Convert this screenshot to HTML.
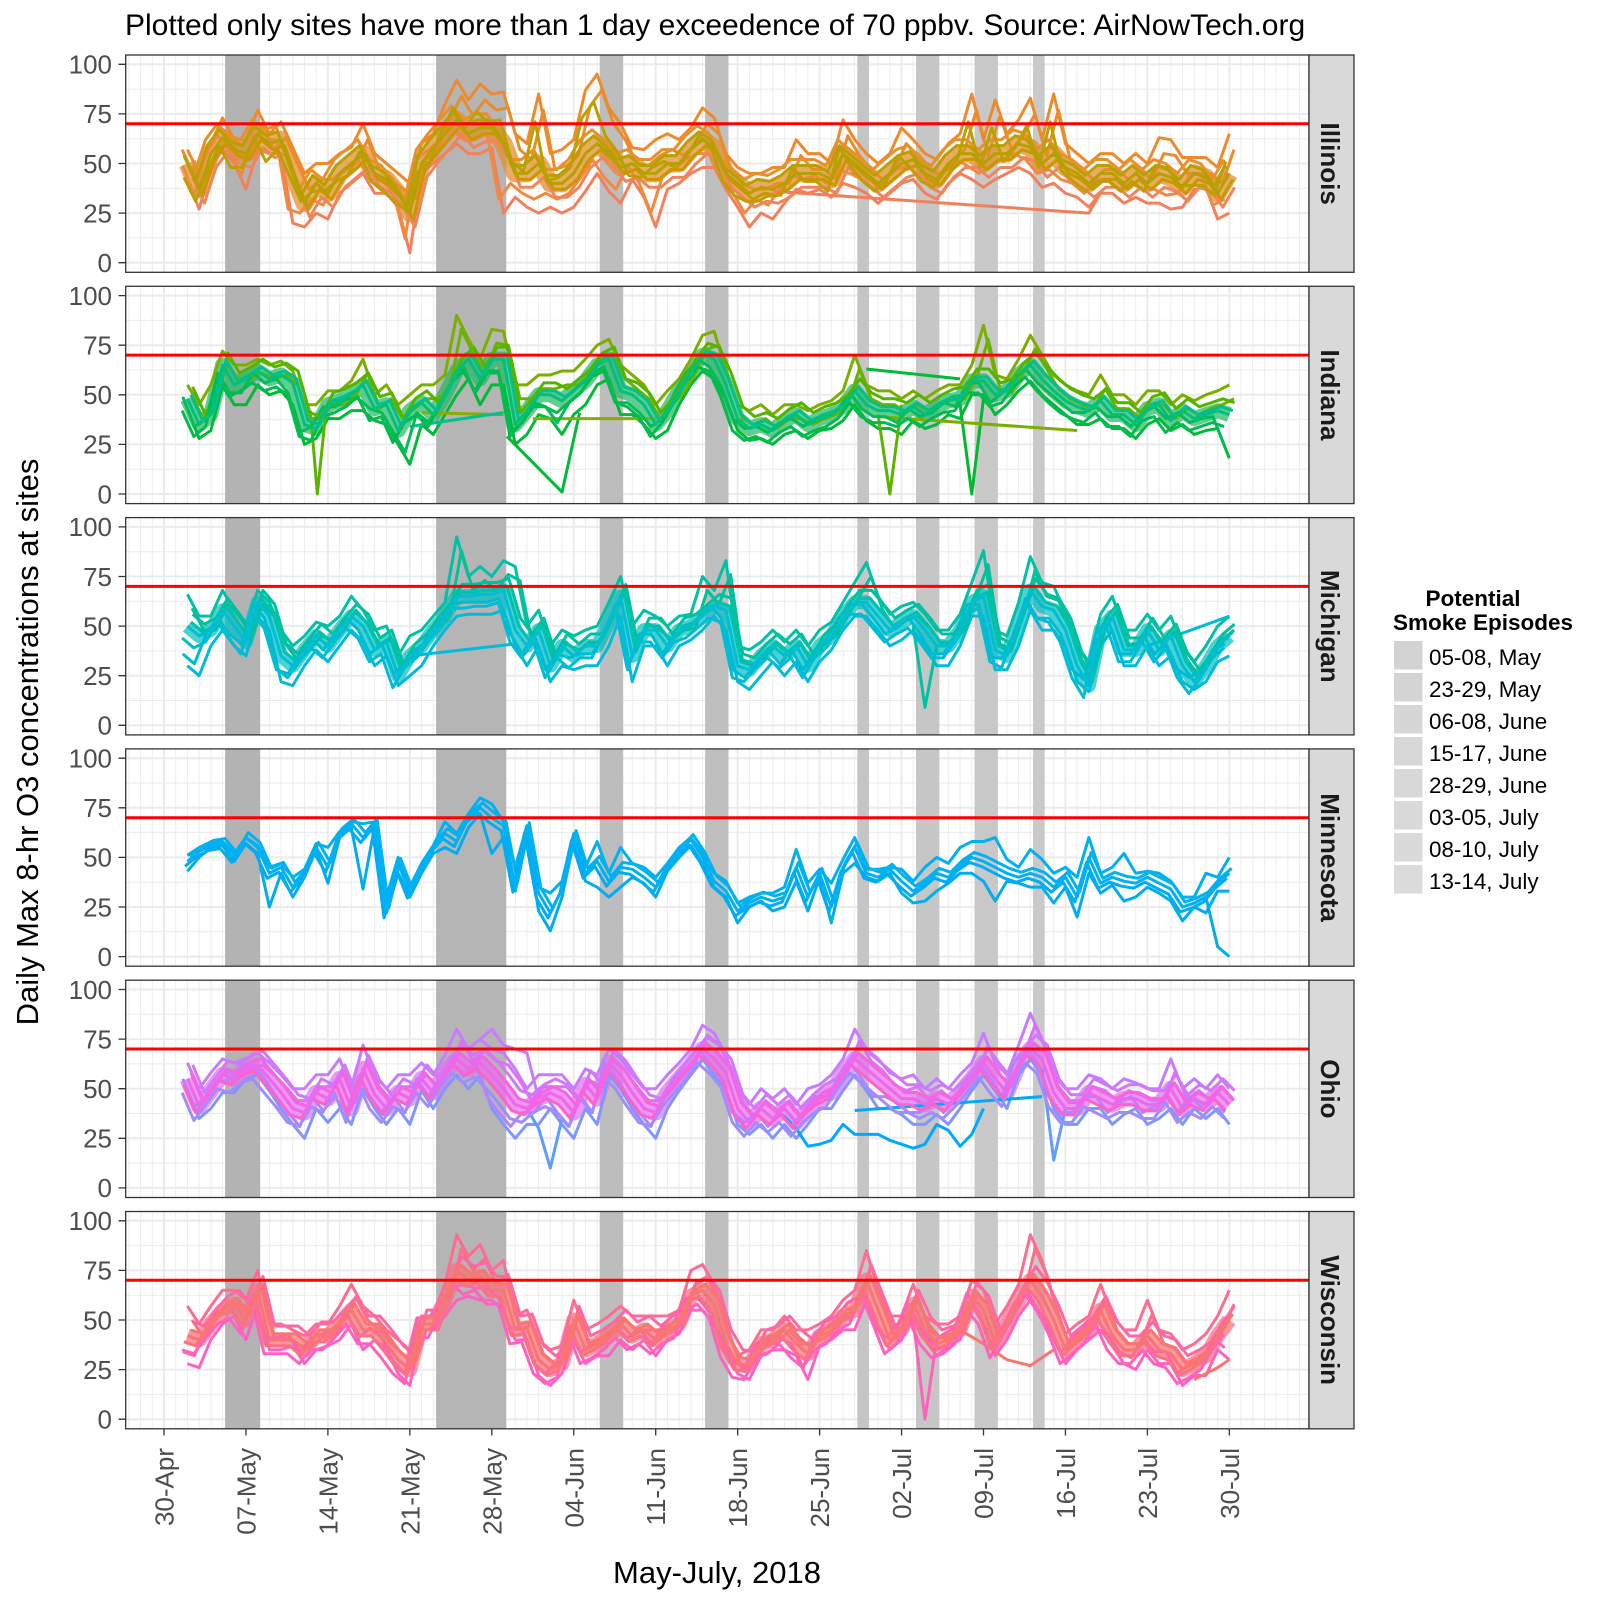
<!DOCTYPE html>
<html><head><meta charset="utf-8"><title>O3 exceedance</title>
<style>
html,body{margin:0;padding:0;background:#fff;}
svg{display:block;}
text{font-family:"Liberation Sans",Arial,sans-serif;}
.yt{font-size:26px;fill:#4d4d4d;text-anchor:end;}
.xt{font-size:26px;fill:#4d4d4d;text-anchor:end;}
.st{font-size:26px;font-weight:bold;fill:#1a1a1a;text-anchor:middle;}
.lg{font-size:22.4px;fill:#000;}
.lt{font-size:22.5px;font-weight:bold;fill:#000;}
</style></head>
<body>
<svg width="1600" height="1600" viewBox="0 0 1600 1600" xmlns="http://www.w3.org/2000/svg">
<rect width="1600" height="1600" fill="#fff"/>
<defs>
<g id="grid">
<line x1="128.38" y1="108.65" x2="1309" y2="108.65" stroke="#ededed" stroke-width="217.3" stroke-dasharray="1 10.707"/>
<path d="M125.7 34.1H1309M125.7 83.7H1309M125.7 133.3H1309M125.7 182.9H1309" stroke="#ebebeb" stroke-width="1"/>
<line x1="163" y1="108.65" x2="1309" y2="108.65" stroke="#ebebeb" stroke-width="217.3" stroke-dasharray="2 79.949"/>
<path d="M125.7 9.3H1309M125.7 58.9H1309M125.7 108.5H1309M125.7 158.1H1309M125.7 207.7H1309" stroke="#ebebeb" stroke-width="2"/>
</g>
<g id="bands">
<rect x="225.1" y="0" width="35.1" height="217.3" fill="#b3b3b3"/>
<rect x="436.1" y="0" width="70.2" height="217.3" fill="#b5b5b5"/>
<rect x="599.7" y="0" width="23.5" height="217.3" fill="#bdbdbd"/>
<rect x="705.1" y="0" width="23.4" height="217.3" fill="#bfbfbf"/>
<rect x="857.3" y="0" width="11.7" height="217.3" fill="#c5c5c5"/>
<rect x="916.0" y="0" width="23.4" height="217.3" fill="#c6c6c6"/>
<rect x="974.5" y="0" width="23.4" height="217.3" fill="#c8c8c8"/>
<rect x="1033.0" y="0" width="11.7" height="217.3" fill="#c9c9c9"/>
</g>
<!-- Illinois -->
<polyline id="il_m" fill="none" stroke-linejoin="round" vector-effect="non-scaling-stroke" points="2,50 3,37 4,55 5,63 6,57 7,55 8,65 9,60 10,62 11,45 12,30 13,40 14,35 15,45 16,50 17,55 18,45 19,42 20,35 21,25 22,50 23,58 24,65 25,72 26,65 27,68 28,68 29,60 30,45 31,45 32,50 33,40 34,40 35,45 36,55 37,60 38,55 39,48 40,50 41,45 42,45 43,50 44,50 45,57 46,62 47,58 48,45 49,40 50,35 51,38 52,37 53,40 54,45 55,45 56,45 57,42 58,55 59,50 60,45 61,40 62,45 63,50 64,52 65,45 66,42 67,50 68,55 69,55 70,50 71,55 72,55 73,60 74,58 75,50 76,55 77,48 78,45 79,40 80,45 81,45 82,40 83,45 84,40 85,45 86,43 87,38 88,45 89,43 90,35 91,45"/>
<polyline id="il_h" fill="none" stroke-linejoin="round" vector-effect="non-scaling-stroke" points="2,57 3,45 4,60 5,73 6,62 7,62 8,77 9,65 10,71 11,58 12,45 13,50 14,50 15,55 16,58 17,70 18,55 19,50 20,45 21,40 22,60 23,65 24,80 25,92 26,82 27,90 28,85 29,86 30,65 31,60 32,85 33,55 34,57 35,62 36,87 37,95 38,78 39,70 40,58 41,57 42,62 43,65 44,62 45,68 46,78 47,73 48,55 49,48 50,45 51,45 52,48 53,48 54,62 55,55 56,55 57,50 58,72 59,62 60,55 61,50 62,55 63,68 64,62 65,55 66,52 67,60 68,65 69,85 70,62 71,82 72,65 73,72 74,83 75,62 76,85 77,60 78,55 79,50 80,55 81,55 82,50 83,55 84,50 85,63 86,62 87,53 88,53 89,53 90,48 91,65"/>
<polyline id="il_l" fill="none" stroke-linejoin="round" vector-effect="non-scaling-stroke" points="2,42 3,27 4,48 5,57 6,50 7,37 8,57 9,55 10,55 11,20 12,18 13,25 14,22 15,35 16,40 17,45 18,35 19,35 20,28 21,5 22,45 23,50 24,55 25,60 26,55 27,55 28,58 29,25 30,33 31,28 32,25 33,28 34,25 35,28 36,36 37,45 38,36 39,30 40,42 41,33 42,18 43,37 44,40 45,45 46,48 47,48 48,37 49,28 50,18 51,25 52,22 53,30 54,37 55,35 56,37 57,33 58,40 59,38 60,35 61,30 62,35 63,40 64,42 65,35 66,32 67,40 68,45 69,42 70,38 71,42 72,45 73,48 74,45 75,38 76,40 77,35 78,33 79,28 80,35 81,35 82,30 83,33 84,30 85,30 86,27 87,28 88,37 89,38 90,22 91,25"/>
<!-- Indiana -->
<polyline id="in_m" fill="none" stroke-linejoin="round" vector-effect="non-scaling-stroke" points="2,48 3,35 4,40 5,65 6,55 7,58 8,62 9,58 10,60 11,56 12,35 13,33 14,45 15,47 16,50 17,55 18,43 19,45 20,32 21,42 22,46 23,40 24,50 25,62 26,68 27,58 28,68 29,68 30,35 31,42 32,50 33,50 34,47 35,52 36,57 37,65 38,68 39,52 40,50 41,45 42,35 43,42 44,52 45,62 46,70 47,68 48,55 49,38 50,33 51,35 52,32 53,37 54,40 55,35 56,38 57,40 58,44 59,52 60,45 61,42 62,42 63,40 64,44 65,40 66,44 67,47 68,48 69,57 70,57 71,50 72,52 73,60 74,65 75,58 76,52 77,47 78,44 79,42 80,47 81,40 82,40 83,35 84,43 85,45 86,37 87,42 88,38 89,40 90,42 91,40"/>
<polyline id="in_h" fill="none" stroke-linejoin="round" vector-effect="non-scaling-stroke" points="2,55 3,45 4,55 5,72 6,65 7,65 8,68 9,65 10,67 11,62 12,45 13,45 14,52 15,52 16,57 17,68 18,50 19,55 20,45 21,50 22,55 23,55 24,60 25,90 26,78 27,68 28,83 29,82 30,55 31,55 32,60 33,60 34,62 35,62 36,68 37,75 38,78 39,65 40,60 41,55 42,45 43,52 44,58 45,68 46,80 47,82 48,62 49,45 50,42 51,45 52,40 53,45 54,45 55,42 56,45 57,47 58,52 59,70 60,55 61,52 62,52 63,48 64,52 65,48 66,52 67,55 68,55 69,65 70,85 71,60 72,58 73,68 74,80 75,70 76,60 77,55 78,52 79,50 80,60 81,50 82,50 83,45 84,52 85,52 86,45 87,50 88,47 89,50 90,52 91,55"/>
<polyline id="in_l" fill="none" stroke-linejoin="round" vector-effect="non-scaling-stroke" points="2,43 3,28 4,32 5,55 6,45 7,45 8,55 9,50 10,52 11,45 12,25 13,28 14,38 15,38 16,42 17,42 18,37 19,35 20,25 21,15 22,35 23,30 24,40 25,50 26,58 27,45 28,55 29,55 30,25 31,30 32,40 33,38 34,30 35,40 36,45 37,55 38,58 39,40 40,40 41,35 42,28 43,32 44,45 45,55 46,62 47,58 48,48 49,32 50,27 51,28 52,25 53,30 54,32 55,28 56,32 57,33 58,37 59,45 60,37 61,33 62,33 63,30 64,37 65,33 66,35 67,40 68,38 69,50 70,50 71,40 72,45 73,52 74,57 75,50 76,45 77,40 78,35 79,35 80,38 81,33 82,33 83,28 84,35 85,38 86,32 87,35 88,30 89,32 90,33 91,18"/>
<!-- Michigan -->
<polyline id="mi_m" fill="none" stroke-linejoin="round" vector-effect="non-scaling-stroke" points="2,50 3,45 4,48 5,58 6,50 7,42 8,62 9,55 10,35 11,30 12,38 13,45 14,40 15,48 16,55 17,50 18,38 19,42 20,25 21,35 22,40 23,48 24,55 25,65 26,65 27,66 28,66 29,68 30,48 31,40 32,48 33,30 34,40 35,35 36,40 37,40 38,52 39,65 40,35 41,48 42,48 43,40 44,48 45,50 46,55 47,60 48,58 49,30 50,28 51,35 52,40 53,35 54,40 55,30 56,40 57,45 58,55 59,62 60,62 61,55 62,48 63,52 64,55 65,48 66,40 67,40 68,48 69,62 70,65 71,38 72,35 73,52 74,68 75,60 76,58 77,48 78,30 79,20 80,48 81,55 82,38 83,38 84,48 85,38 86,45 87,30 88,22 89,30 90,40 91,45"/>
<polyline id="mi_h" fill="none" stroke-linejoin="round" vector-effect="non-scaling-stroke" points="2,66 3,55 4,55 5,68 6,58 7,50 8,68 9,62 10,48 11,40 12,45 13,52 14,50 15,55 16,65 17,58 18,48 19,50 20,35 21,45 22,48 23,55 24,62 25,95 26,75 27,80 28,75 29,83 30,80 31,50 32,58 33,40 34,48 35,45 36,48 37,50 38,62 39,75 40,50 41,58 42,55 43,50 44,55 45,56 46,75 47,68 48,83 49,40 50,38 51,42 52,48 53,42 54,48 55,40 56,48 57,52 58,62 59,72 60,82 61,65 62,56 63,60 64,62 65,56 66,48 67,48 68,56 69,72 70,88 71,48 72,45 73,62 74,85 75,72 76,70 77,57 78,40 79,32 80,56 81,65 82,48 83,48 84,56 85,48 86,55 87,40 88,32 89,40 90,50 91,55"/>
<polyline id="mi_l" fill="none" stroke-linejoin="round" vector-effect="non-scaling-stroke" points="2,30 3,25 4,40 5,48 6,40 7,35 8,55 9,48 10,22 11,20 12,30 13,38 14,32 15,40 16,48 17,42 18,30 19,35 20,20 21,25 22,30 23,40 24,48 25,55 26,56 27,56 28,56 29,58 30,40 31,30 32,40 33,22 34,30 35,28 36,30 37,30 38,40 39,55 40,22 41,40 42,40 43,30 44,40 45,43 46,48 47,55 48,48 49,22 50,18 51,25 52,32 53,25 54,32 55,22 56,32 57,38 58,48 59,55 60,55 61,48 62,40 63,43 64,48 65,40 66,30 67,30 68,40 69,55 70,55 71,28 72,28 73,40 74,58 75,48 76,48 77,40 78,22 79,17 80,40 81,48 82,30 83,30 84,40 85,30 86,35 87,22 88,18 89,22 90,32 91,35"/>
<!-- Minnesota -->
<polyline id="mn_m" fill="none" stroke-linejoin="round" vector-effect="non-scaling-stroke" points="2,48 3,53 4,56 5,57 6,50 7,60 8,55 9,42 10,45 11,35 12,42 13,55 14,45 15,62 16,67 17,60 18,67 19,22 20,47 21,32 22,45 23,55 24,62 25,58 26,70 27,75 28,70 29,66 30,35 31,65 32,32 33,22 34,34 35,61 36,42 37,48 38,38 39,45 40,44 41,40 42,35 43,45 44,53 45,59 46,50 47,38 48,33 49,23 50,27 51,30 52,28 53,30 54,45 55,30 56,42 57,25 58,45 59,55 60,42 61,40 62,44 63,38 64,33 65,37 66,42 67,40 68,46 69,50 70,48 71,45 72,42 73,40 74,42 75,40 76,35 77,40 78,30 79,50 80,37 81,40 82,38 83,37 84,40 85,37 86,34 87,25 88,27 89,30 90,37 91,42"/>
<polyline id="mn_h" fill="none" stroke-linejoin="round" vector-effect="non-scaling-stroke" points="2,51 3,55 4,57 5,58 6,52 7,60 8,56 9,45 10,47 11,40 12,44 13,57 14,55 15,63 16,68 17,67 18,68 19,30 20,50 21,35 22,47 23,56 24,68 25,62 26,72 27,80 28,77 29,68 30,45 31,66 32,35 33,32 34,38 35,62 36,45 37,58 38,42 39,55 40,47 41,45 42,40 43,47 44,55 45,60 46,52 47,42 48,38 49,27 50,30 51,32 52,32 53,35 54,54 55,37 56,44 57,37 58,49 59,60 60,44 61,44 62,45 63,44 64,38 65,45 66,50 67,47 68,55 69,58 70,58 71,60 72,49 73,45 74,54 75,49 76,42 77,45 78,40 79,60 80,42 81,45 82,52 83,42 84,43 85,42 86,38 87,30 88,30 89,42 90,40 91,50"/>
<polyline id="mn_l" fill="none" stroke-linejoin="round" vector-effect="non-scaling-stroke" points="2,43 3,50 4,55 5,56 6,48 7,57 8,52 9,25 10,42 11,30 12,40 13,54 14,37 15,60 16,65 17,34 18,66 19,22 20,42 21,30 22,42 23,52 24,55 25,52 26,65 27,72 28,52 29,60 30,33 31,60 32,23 33,13 34,30 35,58 36,38 37,35 38,30 39,35 40,40 41,37 42,30 43,43 44,50 45,56 46,47 47,35 48,30 49,17 50,25 51,28 52,23 53,25 54,38 55,23 56,40 57,17 58,42 59,47 60,40 61,38 62,42 63,32 64,27 65,28 66,33 67,37 68,42 69,42 70,38 71,28 72,38 73,37 74,35 75,35 76,27 77,35 78,20 79,42 80,32 81,36 82,28 83,30 84,35 85,32 86,28 87,18 88,25 89,22 90,33 91,33"/>
<!-- Ohio -->
<polyline id="oh_m" fill="none" stroke-linejoin="round" vector-effect="non-scaling-stroke" points="2,55 3,41 4,49 5,57 6,55 7,60 8,62 9,55 10,48 11,40 12,38 13,48 14,45 15,55 16,40 17,60 18,47 19,40 20,48 21,45 22,55 23,48 24,58 25,65 26,60 27,63 28,57 29,50 30,42 31,40 32,45 33,48 34,45 35,38 36,52 37,45 38,63 39,57 40,48 41,40 42,38 43,48 44,55 45,62 46,70 47,65 48,58 49,40 50,33 51,40 52,35 53,40 54,33 55,40 56,45 57,48 58,57 59,65 60,60 61,55 62,50 63,45 64,45 65,42 66,45 67,42 68,48 69,55 70,63 71,55 72,48 73,62 74,70 75,65 76,48 77,40 78,40 79,48 80,45 81,42 82,45 83,45 84,42 85,42 86,50 87,40 88,45 89,42 90,48 91,42"/>
<polyline id="oh_h" fill="none" stroke-linejoin="round" vector-effect="non-scaling-stroke" points="2,63 3,50 4,58 5,65 6,63 7,65 8,68 9,63 10,57 11,50 12,50 13,57 14,57 15,65 16,50 17,72 18,57 19,50 20,57 21,57 22,63 23,57 24,67 25,80 26,70 27,75 28,70 29,68 30,60 31,50 32,57 33,57 34,57 35,50 36,60 37,57 38,70 39,65 40,57 41,50 42,50 43,57 44,63 45,70 46,82 47,78 48,67 49,50 50,42 51,50 52,45 53,50 54,42 55,50 56,52 57,57 58,65 59,80 60,70 61,65 62,58 63,55 64,57 65,50 66,55 67,50 68,57 69,63 70,78 71,63 72,57 73,72 74,88 75,75 76,57 77,50 78,50 79,57 80,55 81,50 82,55 83,53 84,50 85,50 86,65 87,50 88,55 89,50 90,57 91,50"/>
<polyline id="oh_l" fill="none" stroke-linejoin="round" vector-effect="non-scaling-stroke" points="2,49 3,35 4,40 5,48 6,48 7,55 8,57 9,49 10,40 11,32 12,25 13,40 14,33 15,40 16,32 17,50 18,40 19,32 20,40 21,32 22,49 23,40 24,50 25,57 26,50 27,57 28,40 29,32 30,25 31,32 32,32 33,40 34,32 35,25 36,40 37,32 38,57 39,50 40,40 41,32 42,25 43,40 44,49 45,57 46,65 47,57 48,49 49,32 50,27 51,32 52,25 53,32 54,25 55,32 56,40 57,40 58,49 59,57 60,49 61,40 62,40 63,37 64,32 65,32 66,37 67,32 68,40 69,49 70,57 71,49 72,40 73,57 74,65 75,57 76,40 77,32 78,32 79,40 80,40 81,32 82,37 83,40 84,32 85,35 86,40 87,32 88,40 89,35 90,40 91,32"/>
<!-- Wisconsin -->
<polyline id="wi_m" fill="none" stroke-linejoin="round" vector-effect="non-scaling-stroke" points="2,42 3,40 4,48 5,55 6,58 7,50 8,65 9,40 10,40 11,40 12,35 13,42 14,42 15,48 16,55 17,45 18,45 19,38 20,30 21,25 22,48 23,48 24,60 25,75 26,70 27,72 28,65 29,65 30,45 31,46 32,30 33,25 34,28 35,50 36,35 37,38 38,42 39,48 40,42 41,45 42,40 43,45 44,48 45,62 46,65 47,58 48,38 49,28 50,27 51,38 52,40 53,45 54,38 55,33 56,42 57,45 58,52 59,55 60,70 61,55 62,40 63,45 64,58 65,45 66,38 67,40 68,45 69,62 70,55 71,38 72,48 73,60 74,70 75,62 76,50 77,35 78,40 79,45 80,55 81,42 82,35 83,35 84,42 85,35 86,33 87,25 88,28 89,32 90,42 91,50"/>
<polyline id="wi_h" fill="none" stroke-linejoin="round" vector-effect="non-scaling-stroke" points="2,57 3,48 4,57 5,65 6,65 7,60 8,75 9,48 10,48 11,45 12,42 13,48 14,48 15,57 16,68 17,57 18,52 19,45 20,40 21,35 22,52 23,52 24,68 25,93 26,82 27,88 28,75 29,80 30,52 31,55 32,40 33,35 34,37 35,60 36,45 37,48 38,52 39,57 40,52 41,52 42,52 43,52 44,55 45,75 46,78 47,68 48,48 49,32 50,35 51,45 52,45 53,52 54,45 55,45 56,48 57,52 58,60 59,65 60,85 61,65 62,52 63,52 64,68 65,52 66,48 67,48 68,52 69,70 70,65 71,48 72,57 73,68 74,93 75,80 76,60 77,43 78,48 79,52 80,68 81,52 82,45 83,45 84,60 85,45 86,43 87,35 88,38 89,43 90,52 91,65"/>
<polyline id="wi_l" fill="none" stroke-linejoin="round" vector-effect="non-scaling-stroke" points="2,28 3,26 4,40 5,48 6,52 7,40 8,57 9,35 10,35 11,37 12,28 13,35 14,37 15,40 16,48 17,35 18,40 19,35 20,23 21,17 22,45 23,45 24,52 25,60 26,62 27,60 28,60 29,55 30,40 31,40 32,22 33,17 34,23 35,40 36,28 37,32 38,32 39,40 40,35 41,40 42,32 43,40 44,43 45,55 46,55 47,48 48,35 49,23 50,20 51,32 52,35 53,35 54,32 55,20 56,37 57,40 58,45 59,45 60,60 61,45 62,35 63,40 64,52 65,40 66,32 67,37 68,40 69,57 70,48 71,32 72,40 73,52 74,60 75,50 76,40 77,28 78,35 79,40 80,45 81,37 82,28 83,25 84,35 85,28 86,28 87,17 88,22 89,22 90,35 91,30"/>
</defs>

<text x="125" y="35" font-size="30" fill="#000">Plotted only sites have more than 1 day exceedence of 70 ppbv. Source: AirNowTech.org</text>

<!-- ============ Panel 1 Illinois ============ -->
<g transform="translate(0,55)"><use href="#grid"/><use href="#bands"/></g>
<g transform="translate(164,262.7) scale(11.707,-1.984)" fill="none" stroke-width="3" stroke-linejoin="round">
<use href="#il_m" stroke="#E39030" stroke-width="18" opacity="0.75"/>
<use href="#il_h" stroke="#EE8A2C"/>
<use href="#il_l" stroke="#F2805C"/>
<use href="#il_h" transform="translate(0.4,-8)" stroke="#E98C2A"/>
<use href="#il_l" transform="translate(-0.4,7)" stroke="#F08A40"/>
<use href="#il_m" transform="translate(0.45,-7)" stroke="#F0845A"/>
<use href="#il_m" transform="translate(-0.45,7)" stroke="#E8902A"/>
<polyline points="52,36 79,25 80,35" stroke="#F0805A" vector-effect="non-scaling-stroke"/>
<use href="#il_h" transform="translate(-0.3,-14)" stroke="#BBA000"/>
<use href="#il_m" transform="translate(0.3,-3)" stroke="#C99800"/>
<use href="#il_m" transform="translate(-0.3,4)" stroke="#B8A000"/>
<use href="#il_m" stroke="#B3A100"/>
</g>
<line x1="125.7" y1="123.8" x2="1309" y2="123.8" stroke="#ff0000" stroke-width="3"/>
<rect x="125.7" y="55" width="1183.3" height="217.3" fill="none" stroke="#333" stroke-width="1.3"/>
<rect x="1309" y="55" width="45" height="217.3" fill="#d9d9d9" stroke="#333" stroke-width="1.3"/>
<text class="st" transform="translate(1321,163.65) rotate(90)">Illinois</text>
<path d="M118.5 262.7h7.2M118.5 213.1h7.2M118.5 163.5h7.2M118.5 113.9h7.2M118.5 64.3h7.2" stroke="#333" stroke-width="1.3"/>
<text class="yt" x="112" y="272">0</text><text class="yt" x="112" y="222.4">25</text><text class="yt" x="112" y="172.8">50</text><text class="yt" x="112" y="123.2">75</text><text class="yt" x="112" y="73.6">100</text>

<!-- ============ Panel 2 Indiana ============ -->
<g transform="translate(0,286.3)"><use href="#grid"/><use href="#bands"/></g>
<g transform="translate(164,494) scale(11.707,-1.984)" fill="none" stroke-width="3" stroke-linejoin="round">
<use href="#in_m" stroke="#22B862" stroke-width="15" opacity="0.7"/>
<use href="#in_h" stroke="#7CAE00"/>
<use href="#in_l" stroke="#00BA38"/>
<polyline points="12.5,42 13.1,0 13.8,40" stroke="#5BB300" vector-effect="non-scaling-stroke"/>
<polyline points="29.3,29 34,1 35.5,41" stroke="#00BA38" vector-effect="non-scaling-stroke"/>
<polyline points="61,40 62,0 63,45" stroke="#5BB300" vector-effect="non-scaling-stroke"/>
<polyline points="68,45 69,0 70,48" stroke="#00B82E" vector-effect="non-scaling-stroke"/>
<polyline points="22,41 29,40" stroke="#8BAB00" vector-effect="non-scaling-stroke"/>
<polyline points="21,34 29,41" stroke="#00C08B" vector-effect="non-scaling-stroke"/>
<polyline points="31.5,38 42,38" stroke="#8BAB00" vector-effect="non-scaling-stroke"/>
<polyline points="60,63 68,58" stroke="#00BA38" vector-effect="non-scaling-stroke"/>
<polyline points="61,39 78,32" stroke="#7CAE00" vector-effect="non-scaling-stroke"/>
<use href="#in_h" transform="translate(0.4,-7)" stroke="#6BB100"/>
<use href="#in_l" transform="translate(-0.4,6)" stroke="#00BC5A"/>
<use href="#in_m" transform="translate(0.45,6)" stroke="#53B400"/>
<use href="#in_m" transform="translate(-0.45,-6)" stroke="#00BB4E"/>
<use href="#in_m" transform="translate(0.3,2)" stroke="#00C08B"/>
<use href="#in_m" stroke="#00BF7D"/>
</g>
<line x1="125.7" y1="355.1" x2="1309" y2="355.1" stroke="#ff0000" stroke-width="3"/>
<rect x="125.7" y="286.3" width="1183.3" height="217.3" fill="none" stroke="#333" stroke-width="1.3"/>
<rect x="1309" y="286.3" width="45" height="217.3" fill="#d9d9d9" stroke="#333" stroke-width="1.3"/>
<text class="st" transform="translate(1321,394.95) rotate(90)">Indiana</text>
<path d="M118.5 494h7.2M118.5 444.4h7.2M118.5 394.8h7.2M118.5 345.2h7.2M118.5 295.6h7.2" stroke="#333" stroke-width="1.3"/>
<text class="yt" x="112" y="503.3">0</text><text class="yt" x="112" y="453.7">25</text><text class="yt" x="112" y="404.1">50</text><text class="yt" x="112" y="354.5">75</text><text class="yt" x="112" y="304.9">100</text>

<!-- ============ Panel 3 Michigan ============ -->
<g transform="translate(0,517.6)"><use href="#grid"/><use href="#bands"/></g>
<g transform="translate(164,725.3) scale(11.707,-1.984)" fill="none" stroke-width="3" stroke-linejoin="round">
<use href="#mi_m" stroke="#00BFC0" stroke-width="14" opacity="0.7"/>
<use href="#mi_h" stroke="#00C1A7"/>
<use href="#mi_l" stroke="#00BBDA"/>
<polyline points="64,50 65,9 66,40" stroke="#00C1A3" vector-effect="non-scaling-stroke"/>
<polyline points="21,35 30,41" stroke="#00BCD8" vector-effect="non-scaling-stroke"/>
<polyline points="84,40 91,55" stroke="#00BCD8" vector-effect="non-scaling-stroke"/>
<use href="#mi_h" transform="translate(0.4,-7)" stroke="#00C19A"/>
<use href="#mi_l" transform="translate(-0.4,6)" stroke="#00BCD0"/>
<use href="#mi_m" transform="translate(0.45,6)" stroke="#00C19F"/>
<use href="#mi_m" transform="translate(-0.45,-6)" stroke="#00BCD5"/>
<use href="#mi_m" transform="translate(0.3,2)" stroke="#00C1B0"/>
<use href="#mi_m" stroke="#00BDD6"/>
</g>
<line x1="125.7" y1="586.4" x2="1309" y2="586.4" stroke="#ff0000" stroke-width="3"/>
<rect x="125.7" y="517.6" width="1183.3" height="217.3" fill="none" stroke="#333" stroke-width="1.3"/>
<rect x="1309" y="517.6" width="45" height="217.3" fill="#d9d9d9" stroke="#333" stroke-width="1.3"/>
<text class="st" transform="translate(1321,626.25) rotate(90)">Michigan</text>
<path d="M118.5 725.3h7.2M118.5 675.7h7.2M118.5 626.1h7.2M118.5 576.5h7.2M118.5 526.9h7.2" stroke="#333" stroke-width="1.3"/>
<text class="yt" x="112" y="734.6">0</text><text class="yt" x="112" y="685">25</text><text class="yt" x="112" y="635.4">50</text><text class="yt" x="112" y="585.8">75</text><text class="yt" x="112" y="536.2">100</text>

<!-- ============ Panel 4 Minnesota ============ -->
<g transform="translate(0,748.9)"><use href="#grid"/><use href="#bands"/></g>
<g transform="translate(164,956.6) scale(11.707,-1.984)" fill="none" stroke-width="3" stroke-linejoin="round">
<use href="#mn_h" stroke="#00B0F0"/>
<use href="#mn_l" stroke="#00ADEF"/>
<polyline points="88,27 89,30 90,5 91,0" stroke="#00AEEF" vector-effect="non-scaling-stroke"/>
<use href="#mn_m" transform="translate(0.2,2.5)" stroke="#00B2EE"/>
<use href="#mn_m" transform="translate(-0.2,-2.5)" stroke="#00ACF2"/>
<use href="#mn_m" stroke="#00B0F3"/>
</g>
<line x1="125.7" y1="817.7" x2="1309" y2="817.7" stroke="#ff0000" stroke-width="3"/>
<rect x="125.7" y="748.9" width="1183.3" height="217.3" fill="none" stroke="#333" stroke-width="1.3"/>
<rect x="1309" y="748.9" width="45" height="217.3" fill="#d9d9d9" stroke="#333" stroke-width="1.3"/>
<text class="st" transform="translate(1321,857.55) rotate(90)">Minnesota</text>
<path d="M118.5 956.6h7.2M118.5 907h7.2M118.5 857.4h7.2M118.5 807.8h7.2M118.5 758.2h7.2" stroke="#333" stroke-width="1.3"/>
<text class="yt" x="112" y="965.9">0</text><text class="yt" x="112" y="916.3">25</text><text class="yt" x="112" y="866.7">50</text><text class="yt" x="112" y="817.1">75</text><text class="yt" x="112" y="767.5">100</text>

<!-- ============ Panel 5 Ohio ============ -->
<g transform="translate(0,980.2)"><use href="#grid"/><use href="#bands"/></g>
<g transform="translate(164,1187.9) scale(11.707,-1.984)" fill="none" stroke-width="3" stroke-linejoin="round">
<use href="#oh_m" stroke="#E670EC" stroke-width="16" opacity="0.72"/>
<use href="#oh_h" stroke="#C77CFF"/>
<use href="#oh_l" stroke="#7F96FF"/>
<polyline points="31,40 32,30 33,10 34,35" stroke="#5A9CFF" vector-effect="non-scaling-stroke"/>
<polyline points="52,40 53,36 54,30 55,21 56,22 57,24 58,32 59,27 60,27 61,27 62,24 63,22 64,20 65,22 66,32 67,29 68,21 69,27 70,40" stroke="#00A9FF" vector-effect="non-scaling-stroke"/>
<polyline points="59,39 75,46" stroke="#00A9FF" vector-effect="non-scaling-stroke"/>
<polyline points="75,60 76,14 77,40" stroke="#619CFF" vector-effect="non-scaling-stroke"/>
<polyline points="27,75 28,80 29,72 30,70 31,68 32,45" stroke="#C77CFF" vector-effect="non-scaling-stroke"/>
<use href="#oh_h" transform="translate(0.4,-6)" stroke="#DC71F6"/>
<use href="#oh_l" transform="translate(-0.4,6)" stroke="#B383FF"/>
<use href="#oh_m" transform="translate(0.45,7)" stroke="#D277FB"/>
<use href="#oh_m" transform="translate(-0.45,-7)" stroke="#A08CFF"/>
<use href="#oh_m" transform="translate(0.3,3)" stroke="#F564E3"/>
<use href="#oh_m" transform="translate(-0.3,-3)" stroke="#FF61CC"/>
<use href="#oh_m" stroke="#F066EA"/>
</g>
<line x1="125.7" y1="1049" x2="1309" y2="1049" stroke="#ff0000" stroke-width="3"/>
<rect x="125.7" y="980.2" width="1183.3" height="217.3" fill="none" stroke="#333" stroke-width="1.3"/>
<rect x="1309" y="980.2" width="45" height="217.3" fill="#d9d9d9" stroke="#333" stroke-width="1.3"/>
<text class="st" transform="translate(1321,1088.85) rotate(90)">Ohio</text>
<path d="M118.5 1187.9h7.2M118.5 1138.3h7.2M118.5 1088.7h7.2M118.5 1039.1h7.2M118.5 989.5h7.2" stroke="#333" stroke-width="1.3"/>
<text class="yt" x="112" y="1197.2">0</text><text class="yt" x="112" y="1147.6">25</text><text class="yt" x="112" y="1098">50</text><text class="yt" x="112" y="1048.4">75</text><text class="yt" x="112" y="998.8">100</text>

<!-- ============ Panel 6 Wisconsin ============ -->
<g transform="translate(0,1211.5)"><use href="#grid"/><use href="#bands"/></g>
<g transform="translate(164,1419.2) scale(11.707,-1.984)" fill="none" stroke-width="3" stroke-linejoin="round">
<use href="#wi_m" stroke="#F9707F" stroke-width="15" opacity="0.72"/>
<use href="#wi_h" stroke="#FF6C91"/>
<use href="#wi_l" stroke="#FF61C3"/>
<polyline points="64,50 65,0 66,40" stroke="#FF62BC" vector-effect="non-scaling-stroke"/>
<polyline points="68,45 70,38 72,30 74,27 76,35" stroke="#F8766D" vector-effect="non-scaling-stroke"/>
<polyline points="88,20 90,26 91,30" stroke="#F8766D" vector-effect="non-scaling-stroke"/>
<use href="#wi_h" transform="translate(0.4,-7)" stroke="#FA7086"/>
<use href="#wi_l" transform="translate(-0.4,6)" stroke="#FF63B0"/>
<use href="#wi_m" transform="translate(0.45,7)" stroke="#FF67A4"/>
<use href="#wi_m" transform="translate(-0.45,-7)" stroke="#FF62BC"/>
<use href="#wi_m" transform="translate(0.3,3)" stroke="#F8766D"/>
<use href="#wi_m" transform="translate(-0.3,-3)" stroke="#FB727E"/>
<use href="#wi_m" stroke="#F8766D"/>
</g>
<line x1="125.7" y1="1280.3" x2="1309" y2="1280.3" stroke="#ff0000" stroke-width="3"/>
<rect x="125.7" y="1211.5" width="1183.3" height="217.3" fill="none" stroke="#333" stroke-width="1.3"/>
<rect x="1309" y="1211.5" width="45" height="217.3" fill="#d9d9d9" stroke="#333" stroke-width="1.3"/>
<text class="st" transform="translate(1321,1320.15) rotate(90)">Wisconsin</text>
<path d="M118.5 1419.2h7.2M118.5 1369.6h7.2M118.5 1320h7.2M118.5 1270.4h7.2M118.5 1220.8h7.2" stroke="#333" stroke-width="1.3"/>
<text class="yt" x="112" y="1428.5">0</text><text class="yt" x="112" y="1378.9">25</text><text class="yt" x="112" y="1329.3">50</text><text class="yt" x="112" y="1279.7">75</text><text class="yt" x="112" y="1230.1">100</text>

<!-- X axis -->
<path d="M164 1428.8v6.7M245.95 1428.8v6.7M327.9 1428.8v6.7M409.85 1428.8v6.7M491.8 1428.8v6.7M573.75 1428.8v6.7M655.7 1428.8v6.7M737.65 1428.8v6.7M819.6 1428.8v6.7M901.55 1428.8v6.7M983.5 1428.8v6.7M1065.45 1428.8v6.7M1147.4 1428.8v6.7M1229.35 1428.8v6.7" stroke="#333" stroke-width="1.3"/>
<text class="xt" transform="translate(173.5,1448) rotate(-90)">30-Apr</text>
<text class="xt" transform="translate(255.45,1448) rotate(-90)">07-May</text>
<text class="xt" transform="translate(337.4,1448) rotate(-90)">14-May</text>
<text class="xt" transform="translate(419.35,1448) rotate(-90)">21-May</text>
<text class="xt" transform="translate(501.3,1448) rotate(-90)">28-May</text>
<text class="xt" transform="translate(583.25,1448) rotate(-90)">04-Jun</text>
<text class="xt" transform="translate(665.2,1448) rotate(-90)">11-Jun</text>
<text class="xt" transform="translate(747.15,1448) rotate(-90)">18-Jun</text>
<text class="xt" transform="translate(829.1,1448) rotate(-90)">25-Jun</text>
<text class="xt" transform="translate(911.05,1448) rotate(-90)">02-Jul</text>
<text class="xt" transform="translate(993,1448) rotate(-90)">09-Jul</text>
<text class="xt" transform="translate(1074.95,1448) rotate(-90)">16-Jul</text>
<text class="xt" transform="translate(1156.9,1448) rotate(-90)">23-Jul</text>
<text class="xt" transform="translate(1238.85,1448) rotate(-90)">30-Jul</text>

<text x="717" y="1583" font-size="31" fill="#000" text-anchor="middle">May-July, 2018</text>
<text transform="translate(38,742) rotate(-90)" font-size="31" fill="#000" text-anchor="middle">Daily Max 8-hr O3 concentrations at sites</text>

<!-- Legend -->
<text class="lt" x="1425.5" y="606">Potential</text>
<text class="lt" x="1393" y="630">Smoke Episodes</text>
<rect x="1394" y="641" width="28.5" height="28.5" fill="#d3d3d3"/>
<rect x="1394" y="673" width="28.5" height="28.5" fill="#d4d4d4"/>
<rect x="1394" y="705" width="28.5" height="28.5" fill="#d6d6d6"/>
<rect x="1394" y="737" width="28.5" height="28.5" fill="#d7d7d7"/>
<rect x="1394" y="769" width="28.5" height="28.5" fill="#d8d8d8"/>
<rect x="1394" y="801" width="28.5" height="28.5" fill="#d9d9d9"/>
<rect x="1394" y="833" width="28.5" height="28.5" fill="#dadada"/>
<rect x="1394" y="865" width="28.5" height="28.5" fill="#dbdbdb"/>
<text class="lg" x="1429" y="665">05-08, May</text>
<text class="lg" x="1429" y="697">23-29, May</text>
<text class="lg" x="1429" y="729">06-08, June</text>
<text class="lg" x="1429" y="761">15-17, June</text>
<text class="lg" x="1429" y="793">28-29, June</text>
<text class="lg" x="1429" y="825">03-05, July</text>
<text class="lg" x="1429" y="857">08-10, July</text>
<text class="lg" x="1429" y="889">13-14, July</text>
</svg>
</body></html>
